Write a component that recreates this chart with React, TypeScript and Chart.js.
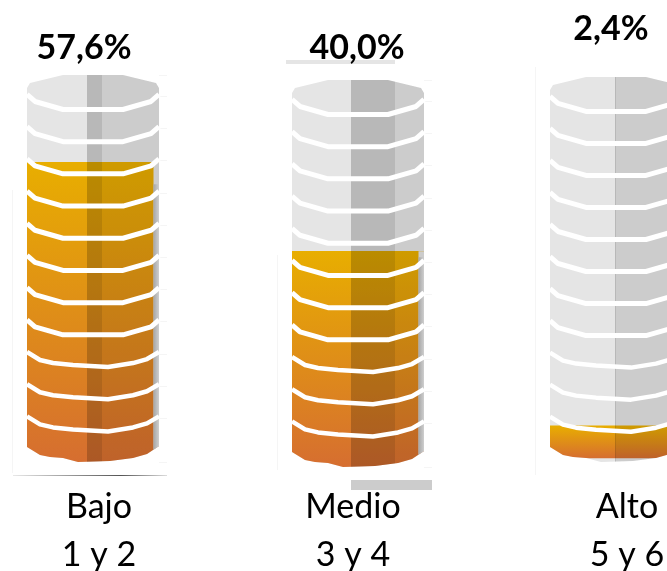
import React, { useEffect, useRef } from "react";
import { Chart, registerables } from "chart.js";

Chart.register(...registerables);

const categories = ["Bajo", "Medio", "Alto"];
const ranges = ["1 y 2", "3 y 4", "5 y 6"];
const values = [57.6, 40.0, 2.4];
const valueLabels = ["57,6%", "40,0%", "2,4%"];
const fillBases = [-5.24, -5.24, -4.4];
const AXIS_MIN = -5.24;
const AXIS_MAX = 75.9;
const gridValues = [-5.24, 4.0, 10.75, 17.5, 24.25, 31.0, 37.75, 44.5, 51.25, 58.0, 64.75, 71.5, 75.9];

const LABEL_FONT = "Lato";

type Layout = {
  center: number;
  top: number;
  bottom: number;
  labelY: number;
  valueDx: number;
  catDx: number;
  tickPad: number;
  band: [number, number];
  guide: [number, number];
  strip: number;
  rects: { x: number; w: number; y: number; h: number; c: string }[];
  baseLine?: boolean;
};

const layouts: Layout[] = [
  { center: 93, top: 75, bottom: 462, labelY: 48, valueDx: -9, catDx: 6, tickPad: 13, band: [-6, 9], guide: [190, 473], strip: 22, rects: [], baseLine: true },
  { center: 358, top: 80, bottom: 467, labelY: 48, valueDx: -1, catDx: -5, tickPad: 8, band: [-7, 37], guide: [255, 470], strip: 6,
    rects: [
      { x: -72, w: 109, y: 60, h: 4, c: "#E5E5E5" },
      { x: -7, w: 81, y: 480, h: 10, c: "#CCCCCC" },
    ] },
  { center: 616, top: 77, bottom: 462, labelY: 29, valueDx: -5, catDx: 11, tickPad: 13, band: [-1, 0], guide: [67, 475], strip: 6, rects: [] },
];

const CANVAS_W = 200;
const CANVAS_H = 571;
const HALF = 66;

function silhouette(ctx: CanvasRenderingContext2D, cx: number, top: number, bottom: number) {
  const topPts = [[-66, 13], [-63, 8], [-30, 0], [30, 0], [63, 8], [66, 13]];
  const botPts = [[66, -16], [54, -8], [40, -4], [17, -1], [-15, 0], [-30, -4], [-43, -5], [-53, -7], [-66, -15]];
  ctx.beginPath();
  topPts.forEach(([dx, dy], i) => (i ? ctx.lineTo(cx + dx, top + dy) : ctx.moveTo(cx + dx, top + dy)));
  botPts.forEach(([dx, dy]) => ctx.lineTo(cx + dx, bottom + dy));
  ctx.closePath();
}

function ring(ctx: CanvasRenderingContext2D, cx: number, c: number, wavy: boolean) {
  const pts = wavy
    ? [[-66, -15], [-53, -7], [-40, -4], [-20, -2], [15, 0], [40, -4], [54, -8], [66, -15]]
    : [[-66, -15], [-58, -8], [-30, 0], [30, 0], [58, -8], [66, -15]];
  ctx.beginPath();
  pts.forEach(([dx, dy], i) => (i ? ctx.lineTo(cx + dx, c + dy) : ctx.moveTo(cx + dx, c + dy)));
  ctx.strokeStyle = "#FFFFFF";
  ctx.lineWidth = wavy ? 4.5 : 5;
  ctx.lineJoin = "round";
  ctx.stroke();
}

function makePlugin(idx: number) {
  const lay = layouts[idx];
  return {
    id: "cylinder" + idx,
    beforeDatasetsDraw(chart: any) {
      const { ctx, scales } = chart;
      const cx = scales.x.getPixelForValue(0);
      const right = cx + HALF;
      ctx.save();
      // faint guides and grid stubs to the right of the cylinder
      ctx.strokeStyle = "#F5F5F5";
      ctx.lineWidth = 1;
      scales.y.ticks.forEach((t: any) => {
        const y = Math.round(scales.y.getPixelForValue(t.value)) + 0.5;
        ctx.beginPath();
        ctx.moveTo(right, y);
        ctx.lineTo(cx + 74, y);
        ctx.stroke();
      });
      ctx.beginPath();
      ctx.moveTo(cx - 81 + 0.5, lay.guide[0]);
      ctx.lineTo(cx - 81 + 0.5, lay.guide[1]);
      ctx.stroke();
      lay.rects.forEach((r) => {
        ctx.fillStyle = r.c;
        ctx.fillRect(cx + r.x, r.y, r.w, r.h);
      });
      if (lay.baseLine) {
        const g = ctx.createLinearGradient(cx - 80, 0, cx + 74, 0);
        g.addColorStop(0, "#E8E8E8");
        g.addColorStop(0.45, "#888888");
        g.addColorStop(0.7, "#555555");
        g.addColorStop(1, "#DDDDDD");
        ctx.fillStyle = g;
        ctx.fillRect(cx - 80, 475, 154, 1);
      }
      ctx.restore();
      ctx.save();
      silhouette(ctx, cx, scales.y.getPixelForValue(AXIS_MAX), scales.y.getPixelForValue(AXIS_MIN));
      ctx.clip();
    },
    afterDatasetsDraw(chart: any) {
      const { ctx, scales } = chart;
      const cx = scales.x.getPixelForValue(0);
      const top = scales.y.getPixelForValue(AXIS_MAX);
      const bottom = scales.y.getPixelForValue(AXIS_MIN);
      const fillTop = scales.y.getPixelForValue(values[idx]);
      // right-hand strip where the coloured column stops short
      ctx.fillStyle = "#E5E5E5";
      ctx.fillRect(cx + HALF - 5.5, fillTop, 5.5, bottom - fillTop);
      const sg = ctx.createLinearGradient(cx + HALF - 5.5, 0, cx + HALF, 0);
      sg.addColorStop(0, "#A6A6A6");
      sg.addColorStop(1, "#CFCFCF");
      // shading: dark band and darker right half
      ctx.fillStyle = "rgba(0,0,0,0.197)";
      ctx.fillRect(cx + lay.band[0], top, lay.band[1] - lay.band[0], bottom - top);
      ctx.fillStyle = "rgba(0,0,0,0.105)";
      ctx.fillRect(cx + lay.band[1], top, HALF - lay.band[1], bottom - top);
      ctx.fillStyle = sg;
      ctx.fillRect(cx + HALF - 5.5, fillTop + lay.strip, 5.5, bottom - fillTop - lay.strip);
      ctx.restore();
      // rings sit just below each horizontal division
      ctx.save();
      const ticks = scales.y.ticks;
      ticks.forEach((t: any, i: number) => {
        if (i === 0 || i === ticks.length - 1) return;
        const fromTop = ticks.length - 1 - i;
        ring(ctx, cx, scales.y.getPixelForValue(t.value) + 13.5, fromTop >= 9);
      });
      // value label
      ctx.fillStyle = "#000000";
      ctx.font = `bold 34px ${LABEL_FONT}`;
      ctx.textAlign = "center";
      ctx.textBaseline = "middle";
      ctx.fillText(valueLabels[idx], cx + lay.valueDx, lay.labelY);
      ctx.restore();
    },
  };
}

function Cylinder({ idx }: { idx: number }) {
  const ref = useRef<HTMLCanvasElement>(null);
  const lay = layouts[idx];
  useEffect(() => {
    const fillGradient = (c: any) => {
      const { chart } = c;
      const y = chart.scales.y;
      const a = y ? y.getPixelForValue(values[idx]) : NaN;
      const b = y ? y.getPixelForValue(fillBases[idx]) : NaN;
      if (!chart.chartArea || !Number.isFinite(a) || !Number.isFinite(b)) return "#E6AC03";
      const g = chart.ctx.createLinearGradient(0, a, 0, b);
      g.addColorStop(0, "#E8AE00");
      g.addColorStop(1, "#D66E30");
      return g;
    };
    const chart = new Chart(ref.current!, {
      type: "bar",
      data: {
        labels: [[categories[idx], ranges[idx]]] as any,
        datasets: [
          { label: "Total", data: [[AXIS_MIN, AXIS_MAX]] as any, backgroundColor: "#E5E5E5", grouped: false, order: 2, barThickness: 132 } as any,
          { label: "Valor", data: [[fillBases[idx], values[idx]]] as any, backgroundColor: fillGradient, grouped: false, order: 1, barThickness: 132 } as any,
        ],
      },
      options: {
        responsive: false,
        animation: false,
        layout: { padding: { top: lay.top, bottom: 0, left: 0, right: 0 } },
        plugins: { legend: { display: false }, tooltip: { enabled: false } },
        scales: {
          x: {
            grid: { display: false },
            border: { display: false },
            ticks: {
              color: "#000000",
              font: { family: LABEL_FONT, size: 34, lineHeight: 1.42 },
              padding: lay.tickPad,
              labelOffset: lay.catDx,
              maxRotation: 0,
              minRotation: 0,
              autoSkip: false,
            },
            afterFit: (s: any) => { s.height = CANVAS_H - lay.bottom; },
          },
          y: {
            display: false,
            min: AXIS_MIN,
            max: AXIS_MAX,
            afterBuildTicks: (s: any) => {
              s.ticks = gridValues.map((value) => ({ value }));
            },
          },
        },
      },
      plugins: [makePlugin(idx)],
    } as any);
    chart.update();
    return () => chart.destroy();
  }, [idx]);
  return (
    <canvas
      ref={ref}
      width={CANVAS_W}
      height={CANVAS_H}
      style={{ position: "absolute", left: lay.center - CANVAS_W / 2, top: 0, width: CANVAS_W, height: CANVAS_H }}
    />
  );
}

export default function App() {
  return (
    <div style={{ position: "fixed", left: 0, top: 0, width: 667, height: 571, overflow: "hidden", background: "#FFFFFF" }}>
      {categories.map((_, i) => (
        <Cylinder key={i} idx={i} />
      ))}
    </div>
  );
}
